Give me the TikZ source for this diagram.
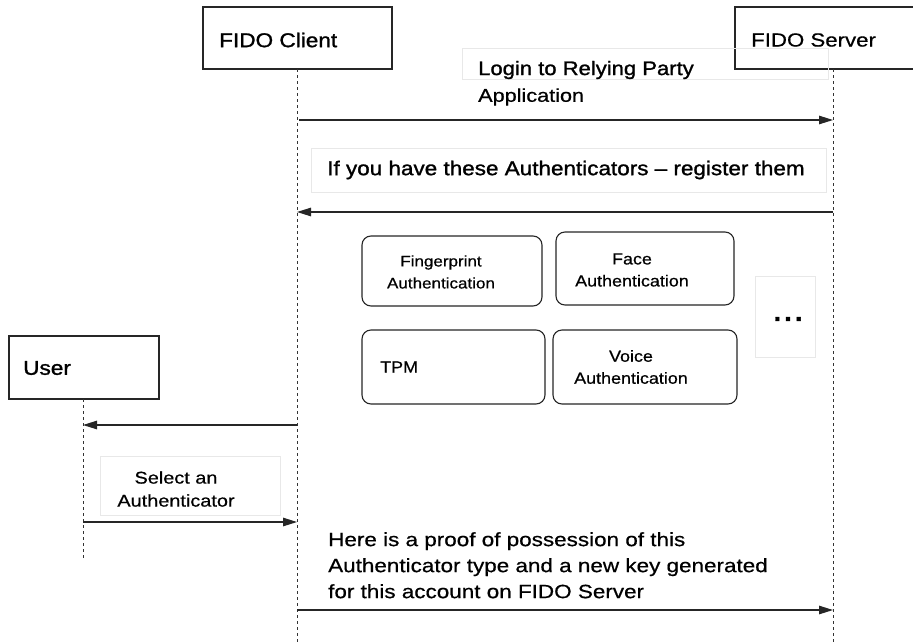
\documentclass[tikz,border=0pt]{standalone}
\usepackage{fontspec}
\setmainfont[FakeStretch=1.17,FakeBold=0.6]{Liberation Sans}
\newfontfamily\heavyfont[FakeStretch=1.13,FakeBold=1.3]{Liberation Sans}
\newfontfamily\authfont[FakeStretch=1.12,FakeBold=0.6]{Liberation Sans}
\usetikzlibrary{arrows.meta}
\begin{document}
\begin{tikzpicture}[x=1pt,y=-1pt,
  actor/.style={draw=black!85,line width=1.4pt,inner sep=0pt},
  lifeline/.style={draw=black!80,line width=0.6pt,dash pattern=on 3pt off 3pt},
  msg/.style={draw=black!85,line width=1.2pt,-{Triangle[length=14pt,width=8.5pt]}},
  faint/.style={draw=black!9,line width=0.6pt},
  auth/.style={draw=black!85,line width=1.1pt,rounded corners=9pt,fill=white},
  lbl/.style={inner sep=0pt,font=\fontsize{18}{22}\selectfont},
  albl/.style={inner sep=0pt,align=center,font=\authfont\fontsize{16}{22}\selectfont}]
\useasboundingbox (0,0) rectangle (913,643);
% actors
\draw[actor] (203,7) rectangle (392,69);
\node[lbl,anchor=west,font=\heavyfont\fontsize{20}{24}\selectfont] (client) at (219,40) {FIDO Client};
\draw[actor] (735,7) rectangle (915,69);
\node[lbl,anchor=west,font=\fontsize{19}{24}\selectfont] (server) at (751,40) {FIDO Server};
\draw[actor] (9,336) rectangle (159,399);
\node[lbl,anchor=west,font=\heavyfont\fontsize{20}{24}\selectfont] (user) at (23,368) {User};
% lifelines
\coordinate (cT) at (297,69); \coordinate (cB) at (297,643);
\coordinate (sT) at (833,69); \coordinate (sB) at (833,643);
\coordinate (uT) at (83,399); \coordinate (uB) at (83,560);
\draw[lifeline] (cT) -- (cB);
\draw[lifeline] (sT) -- (sB);
\draw[lifeline] (uT) -- (uB);
% message 1
\draw[faint] (462,48) rectangle (828,79);
\node[lbl,anchor=west,font=\heavyfont\fontsize{19.5}{24}\selectfont] (m1a) at (478,70) {Login to Relying Party};
\node[lbl,anchor=west,font=\fontsize{18.5}{22}\selectfont] (m1b) at (478,97) {Application};
\coordinate (c1) at (299,120); \coordinate (s1) at (833,120);
\draw[msg] (c1) -- (s1);
% message 2
\draw[faint] (311,148) rectangle (826,192);
\node[lbl,font=\heavyfont\fontsize{19.9}{24}\selectfont] (m2) at (566,170) {If you have these Authenticators – register them};
\coordinate (c2) at (297,212); \coordinate (s2) at (833,212);
\draw[msg] (s2) -- (c2);
% authenticators
\draw[auth] (362,236) rectangle (542,306);
\node[albl,font=\authfont\fontsize{15.2}{22}\selectfont] (fp) at (441,272) {Fingerprint\\Authentication};
\draw[auth] (556,232) rectangle (734,305);
\node[albl] (face) at (632,270) {Face\\Authentication};
\draw[auth] (362,330) rectangle (545,404);
\node[albl,anchor=west] (tpm) at (380,367) {TPM};
\draw[auth] (553,330) rectangle (737,404);
\node[albl] (voice) at (631,367) {Voice\\Authentication};
\draw[faint] (755,276) rectangle (815,357);
\node[inner sep=0pt,font=\heavyfont\fontsize{34}{34}\selectfont] (dots) at (788,319) {...};
% message 3
\coordinate (c3) at (297,425); \coordinate (u3) at (83,425);
\draw[msg] (c3) -- (u3);
% message 4
\draw[faint] (100,456) rectangle (280,515);
\node[albl,font=\fontsize{17}{23}\selectfont] (m4) at (176,489) {Select an\\Authenticator};
\coordinate (u4) at (83,522); \coordinate (c4) at (297,522);
\draw[msg] (u4) -- (c4);
% message 5
\node[lbl,anchor=north west,align=left,font=\fontsize{19.2}{26}\selectfont] (m5) at (328,532) {Here is a proof of possession of this\\Authenticator type and a new key generated\\for this account on FIDO Server};
\coordinate (c5) at (297,610); \coordinate (s5) at (833,610);
\draw[msg] (c5) -- (s5);
\end{tikzpicture}
\end{document}
